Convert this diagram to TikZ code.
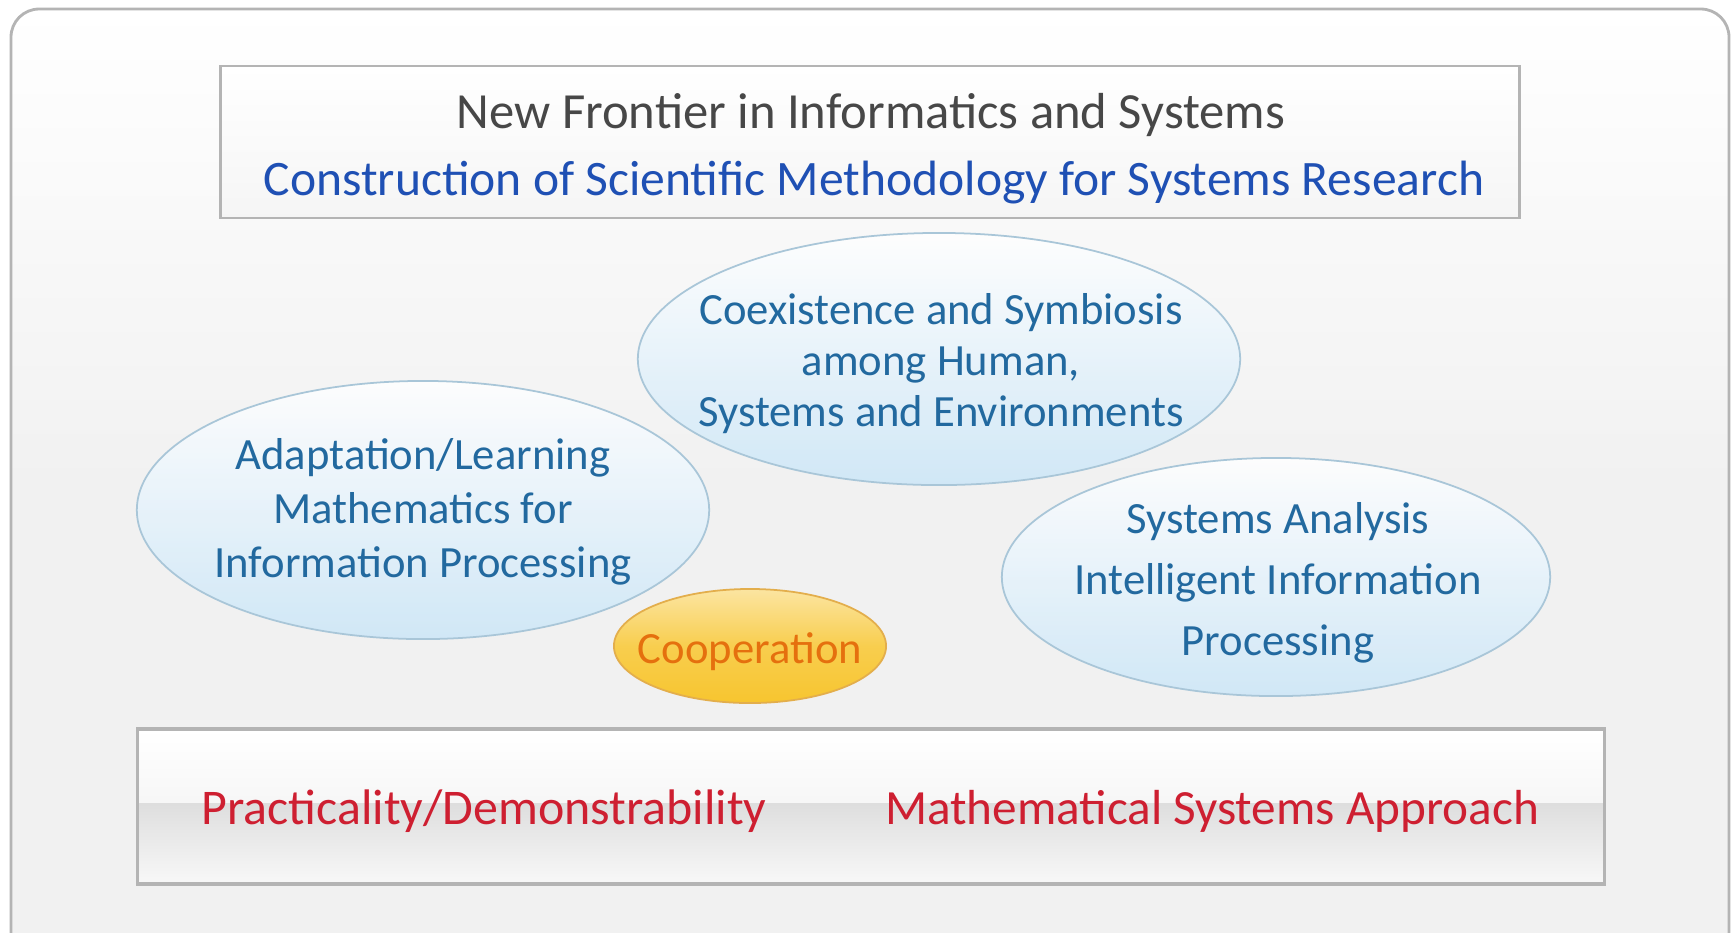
\documentclass[tikz,border=0pt]{standalone}
\usepackage{fontspec}
\setmainfont{Carlito}
\usetikzlibrary{shapes.geometric}

\definecolor{panelgray}{HTML}{F1F1F1}
\definecolor{framegray}{HTML}{B4B4B4}
\definecolor{titlegray}{HTML}{474747}
\definecolor{deepblue}{HTML}{1F50B4}
\definecolor{bubbleblue}{HTML}{CBE6F8}
\definecolor{bubbleedge}{HTML}{A9C6D8}
\definecolor{bubbletext}{HTML}{22699F}
\definecolor{coopyellow}{HTML}{F7C52F}
\definecolor{coopedge}{HTML}{E3AE4C}
\definecolor{cooptext}{HTML}{E5700E}
\definecolor{approachred}{HTML}{CE1F31}

\begin{document}
\begin{tikzpicture}[x=0.01cm, y=-0.01cm,
        bubble/.style={ellipse, draw=bubbleedge, line width=0.5pt, top color=white,
          bottom color=bubbleblue, fill opacity=0.85, inner sep=0pt},
        bubblelabel/.style={align=center, text=bubbletext, font=\fontsize{12.7}{#1}\selectfont},
        bubblelabel/.default=15]
      \tikzstyle{panel} = [draw=framegray, line width=0.8pt]
      \useasboundingbox (0,0) rectangle (1733,932);
      \fill[white] (0,0) rectangle (1733,932);
      % outer panel
      \draw[framegray, line width=0.8pt, rounded corners=8pt, top color=white, bottom color=panelgray,
            middle color=panelgray] (11,9) rectangle (1729,960);
      % heading box
      \node (head) [panel, top color=white, bottom color=panelgray!70, minimum width=12.98cm,
            minimum height=1.52cm] at (870,142) {};
      \node (frontier) [text=titlegray, font=\fontsize{14.4}{17}\selectfont] at (871,115) {New Frontier in Informatics and Systems};
      \node (method) [text=deepblue, font=\fontsize{14.1}{17}\selectfont] at (874,183) {Construction of Scientific Methodology for Systems Research};
      % research fields
      \node (learn) [bubble, minimum width=5.72cm, minimum height=2.58cm] at (423,510) {};
      \node (coex) [bubble, minimum width=6.02cm, minimum height=2.52cm] at (939,359) {};
      \node (analysis) [bubble, minimum width=5.48cm, minimum height=2.38cm] at (1276,577) {};
      \node (coop) [ellipse, draw=coopedge, line width=0.5pt, top color=coopyellow!45,
            bottom color=coopyellow, middle color=coopyellow!85, inner sep=0pt,
            minimum width=2.72cm, minimum height=1.14cm] at (750,646) {};
      \node (learntext) [bubblelabel=15.4] at (423,512) {Adaptation/Learning\\Mathematics for\\Information Processing};
      \node (coextext) [bubblelabel=14.5] at (941,364) {Coexistence and Symbiosis\\among Human,\\Systems and Environments};
      \node (analysistext) [bubblelabel=17.3] at (1278,583) {Systems Analysis\\Intelligent Information\\Processing};
      \node (cooptext) [text=cooptext, font=\fontsize{12.7}{15}\selectfont] at (750,652) {Cooperation};
      % base box with its glossy band
      \shade[top color=white, bottom color=panelgray!60] (138,729) rectangle (1604,803);
      \shade[top color=black!13, bottom color=panelgray!50] (138,803) rectangle (1604,884);
      \node (base) [panel, line width=1pt, minimum width=14.66cm, minimum height=1.55cm] at (871,806.5) {};
      \node (practice) [text=approachred, font=\fontsize{14.2}{17}\selectfont] at (484,811) {Practicality/Demonstrability};
      \node (approach) [text=approachred, font=\fontsize{14}{17}\selectfont] at (1212,811) {Mathematical Systems Approach};
    \end{tikzpicture}
\end{document}
